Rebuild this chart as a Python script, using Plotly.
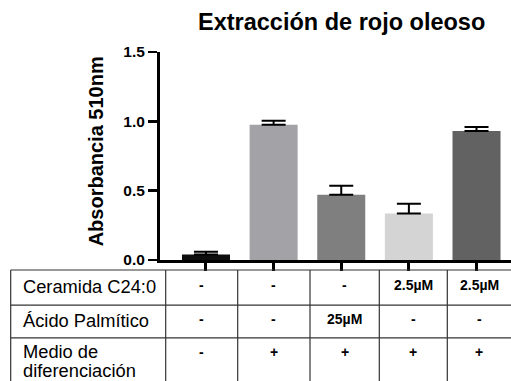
import plotly.graph_objects as go

# ---- data ----
groups = ["G1", "G2", "G3", "G4", "G5"]
absorbance = [0.04, 0.975, 0.47, 0.335, 0.93]
sem = [0.02, 0.03, 0.065, 0.07, 0.03]
bar_colors = ["#0e0e0e", "#a3a3a7", "#7f7f7f", "#d4d4d4", "#626262"]
y_ticks = [0.0, 0.5, 1.0, 1.5]
y_tick_labels = ["0.0", "0.5", "1.0", "1.5"]
row_labels = ["Ceramida C24:0", "Ácido Palmítico"]
row3_label = ["Medio de", "diferenciación"]
ceramida = ["-", "-", "-", "2.5µM", "2.5µM"]
palmitico = ["-", "-", "25µM", "-", "-"]
medio = ["-", "+", "+", "+", "+"]

W, H = 511, 381
L, R, T, B = 160, 0, 52.3, 121
PW, PH = W - L - R, H - T - B
FONT = "Liberation Sans, Arial, sans-serif"


def px_x(px):
    return (px - L) / PW


def px_y(py):
    return (H - B - py) / PH


xs = list(range(len(groups)))
fig = go.Figure()
fig.add_trace(go.Bar(
    x=xs, y=absorbance, width=0.71,
    marker=dict(color=bar_colors, line=dict(width=0)),
    error_y=dict(type="data", array=sem, symmetric=False,
                 arrayminus=[0] * len(sem), color="black", thickness=2, width=12),
    showlegend=False, hoverinfo="skip",
))

fig.update_layout(
    width=W, height=H,
    margin=dict(l=L, r=R, t=T, b=B, pad=0),
    paper_bgcolor="white", plot_bgcolor="white",
    font=dict(family=FONT, color="black"),
    xaxis=dict(range=[-0.68, 4.51], tickvals=xs, ticktext=[""] * len(xs),
               ticks="outside", ticklen=8, tickwidth=3, tickcolor="black",
               showline=True, linewidth=3, linecolor="black",
               showgrid=False, zeroline=False, fixedrange=True),
    yaxis=dict(range=[0, 1.5], tickvals=y_ticks, ticktext=y_tick_labels,
               ticks="outside", ticklen=9, tickwidth=2.5, tickcolor="black",
               showline=True, linewidth=3, linecolor="black",
               showgrid=False, zeroline=False, fixedrange=True,
               tickfont=dict(size=15.5, family=FONT, weight="bold"),
               ticklabelstandoff=0),
)

ann = []
ann.append(dict(text="Extracción de rojo oleoso", x=px_x(341), y=px_y(22),
                xref="paper", yref="paper", showarrow=False,
                font=dict(size=23.5, family=FONT, weight="bold"),
                xanchor="center", yanchor="middle"))
ann.append(dict(text="Absorbancia 510nm", x=px_x(96), y=px_y(151.5),
                xref="paper", yref="paper", showarrow=False, textangle=-90,
                font=dict(size=20, family=FONT, weight="bold"),
                xanchor="center", yanchor="middle"))

# ---- table ----
hlines = [270, 305, 337.7]
vlines = [10.7, 165.7, 237.7, 310, 379.3, 447.3]
shapes = []
for hy in hlines:
    shapes.append(dict(type="line", xref="paper", yref="paper",
                       x0=px_x(10.7), x1=px_x(W + 2), y0=px_y(hy), y1=px_y(hy),
                       line=dict(color="#333333", width=1.2)))
for vx in vlines:
    shapes.append(dict(type="line", xref="paper", yref="paper",
                       x0=px_x(vx), x1=px_x(vx), y0=px_y(270), y1=px_y(H + 2),
                       line=dict(color="#333333", width=1.2)))

col_centers = [(vlines[i] + vlines[i + 1]) / 2 for i in range(1, len(vlines) - 1)] + [(vlines[-1] + W) / 2]
row_centers = [286.5, 320.5]
for lab, yc in zip(row_labels, row_centers):
    ann.append(dict(text=lab, x=px_x(20.5), y=px_y(yc), xref="paper", yref="paper",
                    showarrow=False, xanchor="left", yanchor="middle",
                    font=dict(size=18.3, family=FONT)))
for lab, yc in zip(row3_label, [351, 370.5]):
    ann.append(dict(text=lab, x=px_x(20.5), y=px_y(yc), xref="paper", yref="paper",
                    showarrow=False, xanchor="left", yanchor="middle",
                    font=dict(size=18.3, family=FONT)))

for row_vals, yc in zip([ceramida, palmitico, medio], [285, 319, 352]):
    for v, xc in zip(row_vals, col_centers):
        ann.append(dict(text=v, x=px_x(xc), y=px_y(yc), xref="paper", yref="paper",
                        showarrow=False, xanchor="center", yanchor="middle",
                        font=dict(size=14, family=FONT, weight="bold")))

fig.update_layout(annotations=ann, shapes=shapes)
fig.write_html("out.html", config={"displayModeBar": False, "staticPlot": True},
               post_script="document.body.style.margin='0';document.body.style.overflow='hidden';")
